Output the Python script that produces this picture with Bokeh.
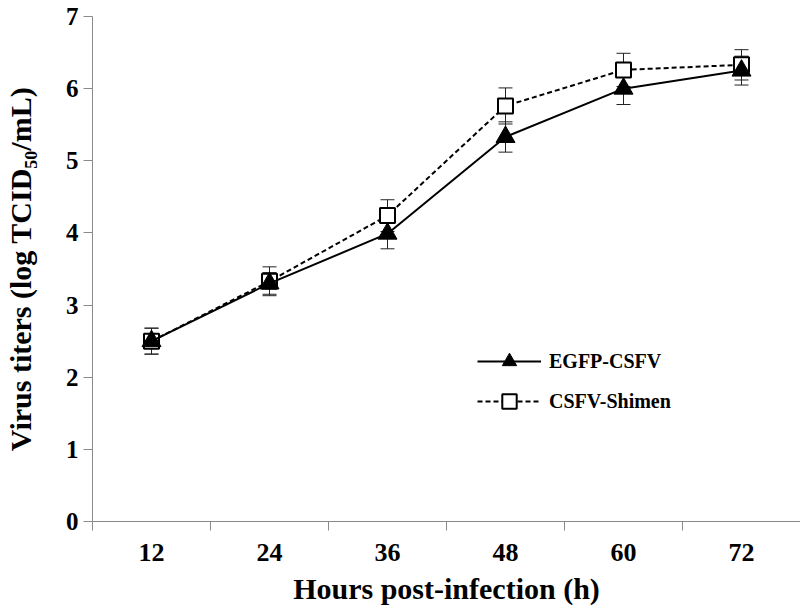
from bokeh.plotting import figure
from bokeh.models import (Range1d, FixedTicker, ColumnDataSource, Whisker, TeeHead,
                          Legend, LegendItem)
from bokeh.embed import file_html
from bokeh.resources import INLINE

# ---- data ----
hours = ["12", "24", "36", "48", "60", "72"]
egfp = [2.50, 3.30, 3.99, 5.33, 6.00, 6.25]
egfp_err = [0.18, 0.15, 0.21, 0.21, 0.22, 0.20]
shimen = [2.50, 3.33, 4.24, 5.76, 6.26, 6.33]
shimen_err = [0.18, 0.20, 0.22, 0.25, 0.23, 0.21]
y_ticks = [0, 1, 2, 3, 4, 5, 6, 7]

pos = [i + 0.5 for i in range(len(hours))]
FONT = "Liberation Serif"
AXIS_GRAY = "#8a8a8a"

p = figure(frame_width=708, frame_height=505, output_backend="svg", toolbar_location=None,
           x_range=Range1d(0, len(hours)), y_range=Range1d(0, 7),
           min_border_left=83, min_border_right=1, min_border_top=16, min_border_bottom=60)
p.outline_line_color = None
p.xgrid.visible = False
p.ygrid.visible = False
p.background_fill_color = "white"
p.border_fill_color = "white"

# axes
xa = p.xaxis[0]
xa.ticker = FixedTicker(ticks=pos, minor_ticks=list(range(len(hours) + 1)))
xa.major_label_overrides = {pv: h for pv, h in zip(pos, hours)}
xa.major_tick_out = 0
xa.major_tick_in = 0
xa.minor_tick_out = 9
xa.minor_tick_in = 0
xa.minor_tick_line_color = AXIS_GRAY
xa.axis_line_color = AXIS_GRAY
xa.major_label_text_font = FONT
xa.major_label_text_font_style = "bold"
xa.major_label_text_font_size = "26px"
xa.major_label_text_color = "black"
xa.major_label_standoff = 13
xa.axis_label = "Hours post-infection (h)"
xa.axis_label_text_font = FONT
xa.axis_label_text_font_style = "bold"
xa.axis_label_text_font_size = "30px"
xa.axis_label_text_color = "black"
xa.axis_label_standoff = 8

ya = p.yaxis[0]
ya.ticker = FixedTicker(ticks=y_ticks, minor_ticks=[])
ya.major_tick_out = 9
ya.major_tick_in = 0
ya.major_tick_line_color = AXIS_GRAY
ya.axis_line_color = AXIS_GRAY
ya.major_label_text_font = FONT
ya.major_label_text_font_style = "bold"
ya.major_label_text_font_size = "25px"
ya.major_label_text_color = "black"
ya.major_label_standoff = 5
ya.axis_label = "Virus titers (log TCID\u2085\u2080/mL)"
ya.axis_label_text_font = FONT
ya.axis_label_text_font_style = "bold"
ya.axis_label_text_font_size = "30px"
ya.axis_label_text_color = "black"
ya.axis_label_standoff = 26

# sources
src_s = ColumnDataSource(dict(x=pos, y=shimen,
                              lo=[v - e for v, e in zip(shimen, shimen_err)],
                              hi=[v + e for v, e in zip(shimen, shimen_err)]))
src_e = ColumnDataSource(dict(x=pos, y=egfp,
                              lo=[v - e for v, e in zip(egfp, egfp_err)],
                              hi=[v + e for v, e in zip(egfp, egfp_err)]))

ERR_COLOR = "#222222"
for src in (src_s, src_e):
    w = Whisker(base="x", lower="lo", upper="hi", source=src, dimension="height",
                line_color=ERR_COLOR, line_width=1,
                upper_head=TeeHead(size=14, line_color=ERR_COLOR, line_width=1),
                lower_head=TeeHead(size=14, line_color=ERR_COLOR, line_width=1))
    p.add_layout(w)

# CSFV-Shimen (drawn first)
l_s = p.line("x", "y", source=src_s, line_color="black", line_width=2, line_dash="5 3")
m_s = p.scatter("x", "y", source=src_s, marker="square", size=15,
                fill_color="white", line_color="black", line_width=2)
# EGFP-CSFV
l_e = p.line("x", "y", source=src_e, line_color="black", line_width=2)
m_e = p.scatter("x", "y", source=src_e, marker="triangle", size=19,
                fill_color="black", line_color="black", line_width=1)

legend = Legend(items=[LegendItem(label="EGFP-CSFV", renderers=[l_e, m_e]),
                       LegendItem(label="CSFV-Shimen", renderers=[l_s, m_s])],
                location=(385, 102), orientation="vertical",
                glyph_width=64, glyph_height=36, label_height=36, spacing=4,
                padding=0, margin=0, label_standoff=8,
                label_text_font=FONT, label_text_font_style="bold",
                label_text_font_size="20px", label_text_color="black",
                border_line_color=None, background_fill_alpha=0)
p.add_layout(legend)

open("out.html", "w").write(file_html(p, INLINE))
